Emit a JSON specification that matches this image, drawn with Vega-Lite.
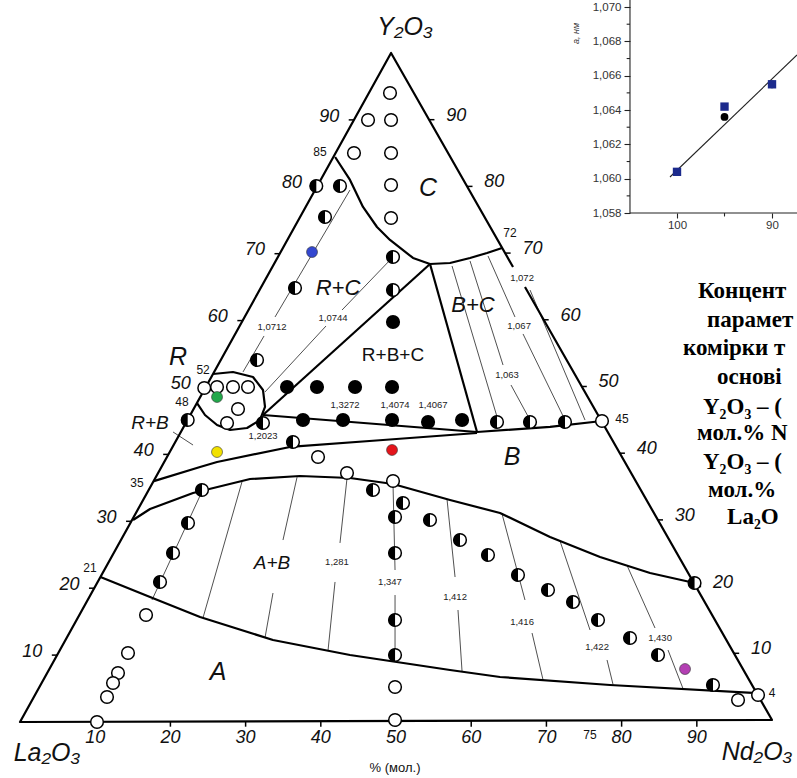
{
"$schema":"https://vega.github.io/schema/vega-lite/v6.json",
"width":797,"height":778,"autosize":"none","padding":0,"background":"white",
"config":{"view":{"stroke":null}},
"datasets":{
"thick":[
{"id":"tri","o":1,"x":65.56,"y":68.01},{"id":"tri","o":2,"x":49.34,"y":100},{"id":"tri","o":3,"x":0,"y":0},{"id":"tri","o":4,"x":100,"y":0.3},{"id":"tri","o":5,"x":67.15,"y":65.02},
{"id":"c","o":1,"x":41.9,"y":84.45},{"id":"c","o":2,"x":43.88,"y":81.02},{"id":"c","o":3,"x":45.61,"y":76.98},{"id":"c","o":4,"x":47.47,"y":73.99},{"id":"c","o":5,"x":49.2,"y":72.05},{"id":"c","o":6,"x":52.26,"y":69.36},{"id":"c","o":7,"x":54.52,"y":68.46},{"id":"c","o":8,"x":57.18,"y":68.61},{"id":"c","o":9,"x":59.84,"y":69.36},{"id":"c","o":10,"x":62.1,"y":70.1},{"id":"c","o":11,"x":64.1,"y":70.85},
{"id":"rbc1","o":1,"x":54.52,"y":68.46},{"id":"rbc1","o":2,"x":32.31,"y":45.89},
{"id":"bcl","o":1,"x":54.52,"y":68.46},{"id":"bcl","o":2,"x":60.77,"y":43.35},
{"id":"rbcb","o":1,"x":32.31,"y":45.89},{"id":"rbcb","o":2,"x":60.77,"y":43.35},
{"id":"bcb","o":1,"x":60.77,"y":43.35},{"id":"bcb","o":2,"x":70.48,"y":44.1},{"id":"bcb","o":3,"x":77.39,"y":44.99},
{"id":"c35","o":1,"x":17.8,"y":36.0},{"id":"c35","o":2,"x":23.94,"y":38.12},{"id":"c35","o":3,"x":26.2,"y":38.86},{"id":"c35","o":4,"x":35.9,"y":41.11},{"id":"c35","o":5,"x":48.27,"y":42.15},{"id":"c35","o":6,"x":60.77,"y":43.2},
{"id":"r","o":1,"x":25.66,"y":52.02},{"id":"r","o":2,"x":28.32,"y":52.32},{"id":"r","o":3,"x":30.98,"y":51.57},{"id":"r","o":4,"x":32.31,"y":49.63},{"id":"r","o":5,"x":32.58,"y":47.09},{"id":"r","o":6,"x":31.91,"y":45.14},{"id":"r","o":7,"x":30.19,"y":43.95},{"id":"r","o":8,"x":27.93,"y":43.65},{"id":"r","o":9,"x":26.2,"y":44.39},{"id":"r","o":10,"x":24.6,"y":45.89},{"id":"r","o":11,"x":23.54,"y":47.68},
{"id":"ab","o":1,"x":15.03,"y":30.19},{"id":"ab","o":2,"x":17.29,"y":31.84},{"id":"ab","o":3,"x":23.01,"y":34.23},{"id":"ab","o":4,"x":30.59,"y":36.32},{"id":"ab","o":5,"x":37.23,"y":36.77},{"id":"ab","o":6,"x":43.88,"y":36.47},{"id":"ab","o":7,"x":49.6,"y":35.58},{"id":"ab","o":8,"x":57.18,"y":33.18},{"id":"ab","o":9,"x":63.83,"y":31.24},{"id":"ab","o":10,"x":70.48,"y":27.65},{"id":"ab","o":11,"x":77.13,"y":24.66},{"id":"ab","o":12,"x":83.78,"y":22.27},{"id":"ab","o":13,"x":89.7,"y":20.78},
{"id":"a","o":1,"x":10.7,"y":21.67},{"id":"a","o":2,"x":17.29,"y":18.68},{"id":"a","o":3,"x":23.94,"y":15.7},{"id":"a","o":4,"x":33.64,"y":12.26},{"id":"a","o":5,"x":43.88,"y":10.01},{"id":"a","o":6,"x":57.18,"y":7.77},{"id":"a","o":7,"x":63.83,"y":6.73},{"id":"a","o":8,"x":78.46,"y":5.53},{"id":"a","o":9,"x":98.01,"y":4.33}
],
"thin":[
{"id":"t1a","o":1,"x":43.88,"y":79.52},{"id":"t1a","o":2,"x":33.91,"y":60.54},
{"id":"t1b","o":1,"x":32.45,"y":57.7},{"id":"t1b","o":2,"x":29.65,"y":52.32},
{"id":"t2a","o":1,"x":49.6,"y":69.51},{"id":"t2a","o":2,"x":42.82,"y":61.58},
{"id":"t2b","o":1,"x":40.69,"y":59.19},{"id":"t2b","o":2,"x":32.58,"y":49.33},
{"id":"rb","o":1,"x":20.35,"y":43.35},{"id":"rb","o":2,"x":23.01,"y":41.4},
{"id":"bc1","o":1,"x":57.45,"y":68.16},{"id":"bc1","o":2,"x":63.56,"y":45.14},
{"id":"bc2a","o":1,"x":59.84,"y":68.91},{"id":"bc2a","o":2,"x":64.23,"y":53.36},
{"id":"bc2b","o":1,"x":65.29,"y":50.37},{"id":"bc2b","o":2,"x":67.82,"y":45.14},
{"id":"bc3a","o":1,"x":62.23,"y":69.66},{"id":"bc3a","o":2,"x":65.82,"y":60.54},
{"id":"bc3b","o":1,"x":66.89,"y":58.0},{"id":"bc3b","o":2,"x":72.47,"y":45.14},
{"id":"bc4","o":1,"x":67.82,"y":64.57},{"id":"bc4","o":2,"x":75.13,"y":45.14},
{"id":"a1","o":1,"x":29.52,"y":35.9},{"id":"a1","o":2,"x":24.34,"y":15.6},
{"id":"a2a","o":1,"x":36.84,"y":36.6},{"id":"a2a","o":2,"x":34.97,"y":27.2},
{"id":"a2b","o":1,"x":33.64,"y":19.28},{"id":"a2b","o":2,"x":32.58,"y":12.6},
{"id":"a3a","o":1,"x":43.48,"y":36.4},{"id":"a3a","o":2,"x":42.55,"y":26.76},
{"id":"a3b","o":1,"x":41.89,"y":20.93},{"id":"a3b","o":2,"x":40.96,"y":10.7},
{"id":"a4a","o":1,"x":49.6,"y":35.58},{"id":"a4a","o":2,"x":49.87,"y":22.72},
{"id":"a4b","o":1,"x":49.87,"y":18.98},{"id":"a4b","o":2,"x":49.87,"y":9.0},
{"id":"a5a","o":1,"x":56.78,"y":33.3},{"id":"a5a","o":2,"x":57.85,"y":21.67},
{"id":"a5b","o":1,"x":58.24,"y":16.74},{"id":"a5b","o":2,"x":58.78,"y":7.6},
{"id":"a6a","o":1,"x":64.1,"y":31.1},{"id":"a6a","o":2,"x":67.15,"y":18.24},
{"id":"a6b","o":1,"x":68.09,"y":13.3},{"id":"a6b","o":2,"x":69.55,"y":6.3},
{"id":"a7a","o":1,"x":71.81,"y":27.05},{"id":"a7a","o":2,"x":75.8,"y":13.75},
{"id":"a7b","o":1,"x":78.06,"y":9.27},{"id":"a7b","o":2,"x":78.86,"y":5.6},
{"id":"a8a","o":1,"x":80.72,"y":23.4},{"id":"a8a","o":2,"x":84.44,"y":14.05},
{"id":"a8b","o":1,"x":86.17,"y":10.76},{"id":"a8b","o":2,"x":88.16,"y":5.0},
{"id":"lft","o":1,"x":24.6,"y":35.43},{"id":"lft","o":2,"x":17.55,"y":18.24}
],
"ticks":[
{"x":4.93,"y":10,"x2":4.23,"y2":10},{"x":9.87,"y":20,"x2":9.17,"y2":20},{"x":14.8,"y":30,"x2":14.1,"y2":30},{"x":19.74,"y":40,"x2":19.04,"y2":40},{"x":24.67,"y":50,"x2":23.97,"y2":50},{"x":29.6,"y":60,"x2":28.9,"y2":60},{"x":34.54,"y":70,"x2":33.84,"y2":70},{"x":39.47,"y":80,"x2":38.77,"y2":80},{"x":44.41,"y":90,"x2":43.71,"y2":90},
{"x":94.93,"y":10.27,"x2":95.63,"y2":10.27},{"x":89.87,"y":20.24,"x2":90.57,"y2":20.24},{"x":84.8,"y":30.21,"x2":85.5,"y2":30.21},{"x":79.74,"y":40.18,"x2":80.44,"y2":40.18},{"x":74.67,"y":50.15,"x2":75.37,"y2":50.15},{"x":69.6,"y":60.12,"x2":70.3,"y2":60.12},{"x":64.54,"y":70.09,"x2":65.24,"y2":70.09},{"x":59.47,"y":80.06,"x2":60.17,"y2":80.06},{"x":54.41,"y":90.03,"x2":55.11,"y2":90.03},
{"x":10,"y":0.03,"x2":10,"y2":-0.7},{"x":20,"y":0.06,"x2":20,"y2":-0.7},{"x":30,"y":0.09,"x2":30,"y2":-0.7},{"x":40,"y":0.12,"x2":40,"y2":-0.7},{"x":50,"y":0.15,"x2":50,"y2":-0.7},{"x":60,"y":0.18,"x2":60,"y2":-0.7},{"x":70,"y":0.21,"x2":70,"y2":-0.7},{"x":80,"y":0.24,"x2":80,"y2":-0.7},{"x":90,"y":0.27,"x2":90,"y2":-0.7}
],
"pts":[
{"k":"o","x":49.2,"y":94.02},{"k":"o","x":46.28,"y":89.99},{"k":"o","x":49.34,"y":89.99},{"k":"o","x":44.41,"y":85.05},{"k":"o","x":49.34,"y":85.05},{"k":"o","x":49.34,"y":80.27},{"k":"o","x":49.34,"y":75.34},
{"k":"o","x":24.5,"y":49.93},{"k":"o","x":26.2,"y":50.07},{"k":"o","x":28.32,"y":50.07},{"k":"o","x":30.32,"y":50.07},{"k":"o","x":28.99,"y":46.79},{"k":"o","x":27.53,"y":44.69},
{"k":"o","x":77.39,"y":44.99},{"k":"o","x":39.63,"y":39.61},{"k":"o","x":43.48,"y":37.22},{"k":"o","x":49.6,"y":36.02},
{"k":"o","x":16.76,"y":15.99},{"k":"o","x":14.36,"y":10.31},{"k":"o","x":13.03,"y":7.32},{"k":"o","x":12.37,"y":5.83},{"k":"o","x":11.57,"y":3.74},{"k":"o","x":10.24,"y":0},
{"k":"o","x":49.87,"y":5.23},{"k":"o","x":49.87,"y":0.3},{"k":"o","x":95.48,"y":3.29},{"k":"o","x":98.14,"y":4.04},
{"k":"h","x":39.4,"y":80.12},{"k":"h","x":42.55,"y":80.12},{"k":"h","x":40.56,"y":75.49},{"k":"h","x":36.57,"y":64.87},{"k":"h","x":31.52,"y":54.11},{"k":"h","x":49.6,"y":69.51},{"k":"h","x":49.6,"y":64.57},
{"k":"h","x":22.3,"y":45.14},{"k":"h","x":32.31,"y":44.69},{"k":"h","x":63.43,"y":44.84},{"k":"h","x":67.82,"y":44.84},{"k":"h","x":72.47,"y":44.84},{"k":"h","x":36.3,"y":41.85},
{"k":"h","x":46.94,"y":34.68},{"k":"h","x":50.93,"y":32.74},{"k":"h","x":49.87,"y":30.64},{"k":"h","x":54.52,"y":30.19},{"k":"h","x":58.51,"y":27.2},{"k":"h","x":62.23,"y":24.96},{"k":"h","x":66.22,"y":21.97},{"k":"h","x":70.21,"y":19.73},{"k":"h","x":73.54,"y":17.94},{"k":"h","x":76.86,"y":15.25},{"k":"h","x":81.12,"y":12.56},{"k":"h","x":84.84,"y":10.01},{"k":"h","x":92.15,"y":5.53},{"k":"h","x":89.7,"y":20.78},
{"k":"h","x":49.87,"y":25.26},{"k":"h","x":49.87,"y":15.25},{"k":"h","x":49.87,"y":10.01},
{"k":"h","x":24.2,"y":34.68},{"k":"h","x":22.34,"y":29.75},{"k":"h","x":20.35,"y":25.26},{"k":"h","x":18.62,"y":20.93},
{"k":"f","x":49.6,"y":59.79},{"k":"f","x":35.51,"y":50.07},{"k":"f","x":39.49,"y":50.07},{"k":"f","x":44.55,"y":50.07},{"k":"f","x":49.47,"y":50.07},{"k":"f","x":37.63,"y":45.14},{"k":"f","x":42.95,"y":45.14},{"k":"f","x":49.47,"y":45.14},{"k":"f","x":54.26,"y":44.84},{"k":"f","x":58.78,"y":45.14}
],
"colored":[
{"c":"blue","x":38.83,"y":70.25},{"c":"green","x":26.2,"y":48.58},{"c":"yellow","x":26.2,"y":40.36},{"c":"red","x":49.47,"y":40.66},{"c":"purple","x":88.43,"y":7.92}
],
"edgelab":[
{"x":1.63,"y":10.5,"t":"10"},{"x":6.57,"y":20.5,"t":"20"},{"x":11.5,"y":30.5,"t":"30"},{"x":16.44,"y":40.5,"t":"40"},{"x":21.37,"y":50.5,"t":"50"},{"x":26.3,"y":60.5,"t":"60"},{"x":31.24,"y":70.5,"t":"70"},{"x":36.17,"y":80.5,"t":"80"},{"x":41.11,"y":90.5,"t":"90"},
{"x":98.53,"y":10.87,"t":"10"},{"x":93.47,"y":20.84,"t":"20"},{"x":88.4,"y":30.81,"t":"30"},{"x":83.34,"y":40.78,"t":"40"},{"x":78.27,"y":50.75,"t":"50"},{"x":73.2,"y":60.72,"t":"60"},{"x":68.14,"y":70.69,"t":"70"},{"x":63.07,"y":80.66,"t":"80"},{"x":58.01,"y":90.63,"t":"90"},
{"x":10,"y":-2.4,"t":"10"},{"x":20,"y":-2.4,"t":"20"},{"x":30,"y":-2.4,"t":"30"},{"x":40,"y":-2.4,"t":"40"},{"x":50,"y":-2.4,"t":"50"},{"x":60,"y":-2.4,"t":"60"},{"x":70,"y":-2.4,"t":"70"},{"x":80,"y":-2.4,"t":"80"},{"x":90,"y":-2.4,"t":"90"}
],
"smalllab":[
{"x":39.89,"y":85.2,"t":"85"},{"x":65.16,"y":73.09,"t":"72"},{"x":24.34,"y":52.62,"t":"52"},{"x":21.54,"y":47.83,"t":"48"},{"x":15.56,"y":35.73,"t":"35"},{"x":9.31,"y":23.02,"t":"21"},{"x":80.05,"y":45.29,"t":"45"},{"x":100,"y":4.33,"t":"4"},{"x":75.8,"y":-1.94,"t":"75"}
],
"regbig":[{"x":54.26,"y":79.82,"t":"C"},{"x":21.0,"y":54.5,"t":"R"},{"x":65.43,"y":39.61,"t":"B"},{"x":26.33,"y":7.47,"t":"A"}],
"regmid":[{"x":42.29,"y":64.87,"t":"R+C"},{"x":60.24,"y":62.33,"t":"B+C"}],
"regsmall":[{"x":17.29,"y":44.69,"t":"R+B"},{"x":33.51,"y":23.77,"t":"A+B"}],
"regup":[{"x":49.6,"y":54.86,"t":"R+B+C"}],
"tielab":[
{"x":33.51,"y":59.04,"t":"1,0712"},{"x":41.62,"y":60.39,"t":"1,0744"},{"x":43.22,"y":47.38,"t":"1,3272"},{"x":49.87,"y":47.38,"t":"1,4074"},{"x":54.92,"y":47.38,"t":"1,4067"},{"x":32.31,"y":42.75,"t":"1,2023"},
{"x":42.15,"y":23.92,"t":"1,281"},{"x":49.2,"y":20.93,"t":"1,347"},{"x":57.85,"y":18.68,"t":"1,412"},{"x":66.76,"y":14.95,"t":"1,416"},{"x":76.73,"y":11.21,"t":"1,422"},{"x":85.11,"y":12.56,"t":"1,430"},
{"x":66.76,"y":66.37,"t":"1,072"},{"x":66.36,"y":59.19,"t":"1,067"},{"x":64.76,"y":51.87,"t":"1,063"}
],
"vertex":[{"x":51.2,"y":103.89,"t":"Y₂O₃"},{"x":3.59,"y":-4.63,"t":"La₂O₃"},{"x":98.01,"y":-4.48,"t":"Nd₂O₃"}],
"unit":[{"x":49.87,"y":-6.9,"t":"% (мол.)"}],
"block":[
{"x":90.16,"y":64.42,"t":"Концент"},{"x":91.36,"y":60.09,"t":"парамет"},{"x":88.16,"y":55.9,"t":"комірки т"},{"x":92.69,"y":51.57,"t":"основі"},{"x":90.82,"y":47.09,"t":"Y₂O₃ – ("},{"x":90.03,"y":43.2,"t":"мол.% N"},{"x":90.82,"y":38.86,"t":"Y₂O₃ – ("},{"x":91.49,"y":34.68,"t":"мол.%"},{"x":94.02,"y":30.64,"t":"La₂O"}
],
"inset_rules":[
{"ix":104.95,"iy":1.058,"ix2":104.95,"iy2":1.0706},{"ix":104.95,"iy":1.058,"ix2":87.3,"iy2":1.058},
{"ix":104.95,"iy":1.059,"ix2":105.3,"iy2":1.059},{"ix":104.95,"iy":1.061,"ix2":105.3,"iy2":1.061},{"ix":104.95,"iy":1.063,"ix2":105.3,"iy2":1.063},{"ix":104.95,"iy":1.065,"ix2":105.3,"iy2":1.065},{"ix":104.95,"iy":1.067,"ix2":105.3,"iy2":1.067},{"ix":104.95,"iy":1.069,"ix2":105.3,"iy2":1.069},
{"ix":95,"iy":1.058,"ix2":95,"iy2":1.0578}
],
"inset_fit":[{"ix":100.74,"iy":1.0601},{"ix":87.37,"iy":1.06721}],
"inset_pts":[
{"s":"La2O3","ix":100,"iy":1.0604},{"s":"La2O3","ix":95,"iy":1.0636},{"s":"La2O3","ix":90,"iy":1.0655},
{"s":"Nd2O3","ix":100,"iy":1.0604},{"s":"Nd2O3","ix":95,"iy":1.0642},{"s":"Nd2O3","ix":90,"iy":1.0655}
]
},
"layer":[
{
"encoding":{
"x":{"field":"x","type":"quantitative","scale":{"domain":[-2.66,103.32],"nice":false,"zero":false},"axis":null},
"y":{"field":"y","type":"quantitative","scale":{"domain":[-8.37,107.92],"nice":false,"zero":false},"axis":null}
},
"layer":[
{"data":{"name":"thin"},"mark":{"type":"line","stroke":"#3c3c3c","strokeWidth":0.9},"encoding":{"detail":{"field":"id","type":"nominal"},"order":{"field":"o","type":"quantitative"}}},
{"data":{"name":"thick"},"mark":{"type":"line","stroke":"black","strokeWidth":2.2,"strokeJoin":"round"},"encoding":{"detail":{"field":"id","type":"nominal"},"order":{"field":"o","type":"quantitative"}}},
{"data":{"name":"ticks"},"mark":{"type":"rule","stroke":"black","strokeWidth":1.5},"encoding":{"x2":{"field":"x2"},"y2":{"field":"y2"}}},
{"data":{"name":"pts"},"transform":[{"filter":"datum.k === 'o' || datum.k === 'h'"}],"mark":{"type":"point","shape":"circle","filled":true,"fill":"white","stroke":"black","strokeWidth":1.5,"size":160,"opacity":1}},
{"data":{"name":"pts"},"transform":[{"filter":"datum.k === 'h'"}],"mark":{"type":"point","shape":"M0,-1A1,1,0,0,0,0,1Z","filled":true,"fill":"black","strokeWidth":0,"size":170,"opacity":1}},
{"data":{"name":"pts"},"transform":[{"filter":"datum.k === 'f'"}],"mark":{"type":"point","shape":"circle","filled":true,"fill":"black","strokeWidth":0,"size":200,"opacity":1}},
{"data":{"name":"colored"},"mark":{"type":"point","shape":"circle","filled":true,"stroke":"#333","strokeWidth":0.6,"size":120,"opacity":1},"encoding":{"fill":{"field":"c","type":"nominal","scale":{"domain":["blue","green","yellow","red","purple"],"range":["#3347d0","#22a84a","#f2e100","#e4141b","#b33fb3"]},"legend":null}}},
{"data":{"name":"edgelab"},"mark":{"type":"text","font":"Liberation Sans","fontStyle":"italic","fontSize":18,"fill":"#111","align":"center","baseline":"middle"},"encoding":{"text":{"field":"t"}}},
{"data":{"name":"smalllab"},"mark":{"type":"text","font":"Liberation Sans","fontSize":12,"fill":"#111","align":"center","baseline":"middle"},"encoding":{"text":{"field":"t"}}},
{"data":{"name":"regbig"},"mark":{"type":"text","font":"Liberation Sans","fontStyle":"italic","fontSize":25,"fill":"#111","align":"center","baseline":"middle"},"encoding":{"text":{"field":"t"}}},
{"data":{"name":"regmid"},"mark":{"type":"text","font":"Liberation Sans","fontStyle":"italic","fontSize":22,"fill":"#111","align":"center","baseline":"middle"},"encoding":{"text":{"field":"t"}}},
{"data":{"name":"regsmall"},"mark":{"type":"text","font":"Liberation Sans","fontStyle":"italic","fontSize":19,"fill":"#111","align":"center","baseline":"middle"},"encoding":{"text":{"field":"t"}}},
{"data":{"name":"regup"},"mark":{"type":"text","font":"Liberation Sans","fontSize":19,"fill":"#111","align":"center","baseline":"middle"},"encoding":{"text":{"field":"t"}}},
{"data":{"name":"tielab"},"mark":{"type":"text","font":"Liberation Sans","fontSize":9.5,"fill":"#222","align":"center","baseline":"middle"},"encoding":{"text":{"field":"t"}}},
{"data":{"name":"vertex"},"mark":{"type":"text","font":"Liberation Sans","fontStyle":"italic","fontSize":25,"fill":"#111","align":"center","baseline":"middle"},"encoding":{"text":{"field":"t"}}},
{"data":{"name":"unit"},"mark":{"type":"text","font":"Liberation Sans","fontSize":13,"fill":"#111","align":"center","baseline":"middle"},"encoding":{"text":{"field":"t"}}},
{"data":{"name":"block"},"mark":{"type":"text","font":"Liberation Serif","fontWeight":"bold","fontSize":23,"fill":"black","align":"left","baseline":"middle"},"encoding":{"text":{"field":"t"}}}
]
},
{
"encoding":{
"x":{"field":"ix","type":"quantitative","scale":{"domain":[87.37,171.26],"reverse":true,"nice":false,"zero":false},
 "axis":{"orient":"bottom","offset":-565,"values":[100,90],"domain":false,"grid":false,"ticks":true,"tickSize":5,"tickColor":"#222","tickWidth":1.1,"labelFont":"Liberation Sans","labelFontSize":11.5,"labelColor":"#333","labelPadding":1,"labelFlush":false,"labelOverlap":false,"title":null}},
"y":{"field":"iy","type":"quantitative","scale":{"domain":[1.02509,1.07041],"nice":false,"zero":false},
 "axis":{"orient":"left","offset":-630,"values":[1.058,1.06,1.062,1.064,1.066,1.068,1.07],"labelExpr":"replace(format(datum.value,'.3f'),'.',',')","domain":false,"grid":false,"ticks":true,"tickSize":6,"tickColor":"#222","tickWidth":1.1,"labelFont":"Liberation Sans","labelFontSize":11.5,"labelColor":"#333","labelPadding":3,"labelFlush":false,"labelOverlap":false,"title":"a, нм","titleFont":"Liberation Sans","titleFontSize":9,"titleFontStyle":"italic","titleFontWeight":"normal","titleColor":"#333","titleX":-55,"titleY":33,"titleAngle":270,"titleAlign":"center","titleBaseline":"middle"}}
},
"layer":[
{"data":{"name":"inset_rules"},"mark":{"type":"rule","stroke":"#222","strokeWidth":1.1},"encoding":{"x2":{"field":"ix2"},"y2":{"field":"iy2"}}},
{"data":{"name":"inset_fit"},"mark":{"type":"line","stroke":"#222","strokeWidth":1.1}},
{"data":{"name":"inset_pts"},"transform":[{"filter":"datum.s === 'La2O3'"}],"mark":{"type":"point","shape":"circle","filled":true,"fill":"black","strokeWidth":0,"size":60,"opacity":1}},
{"data":{"name":"inset_pts"},"transform":[{"filter":"datum.s === 'Nd2O3'"}],"mark":{"type":"point","shape":"square","filled":true,"fill":"#1c2a8c","strokeWidth":0,"size":70,"opacity":1}}
]
}
],
"resolve":{"scale":{"x":"independent","y":"independent"}}
}
